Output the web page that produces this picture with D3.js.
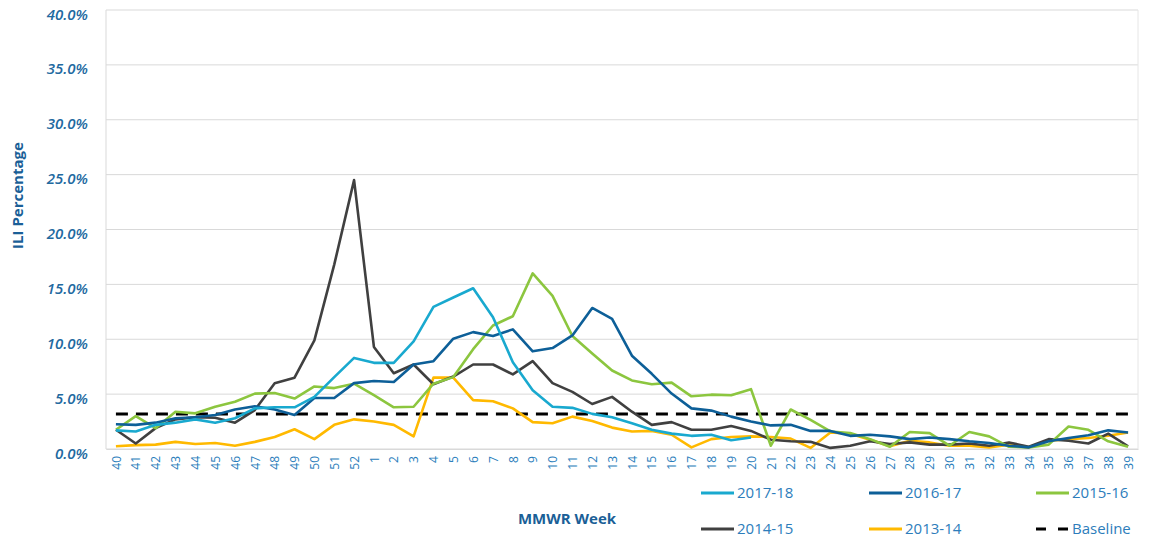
<!DOCTYPE html>
<html>
<head>
<meta charset="utf-8">
<script src="https://cdn.jsdelivr.net/npm/d3@7"></script>
<style>
  body { margin: 0; background: #fff; font-family: "Open Sans", sans-serif; }
</style>
</head>
<body>
<svg id="chart"></svg>
<script>
(() => {

  const weeks = ['40','41','42','43','44','45','46','47','48','49','50','51','52',
    '1','2','3','4','5','6','7','8','9','10','11','12','13','14','15','16','17','18','19','20',
    '21','22','23','24','25','26','27','28','29','30','31','32','33','34','35','36','37','38','39'];

  const yTicks = [0, 5, 10, 15, 20, 25, 30, 35, 40];

  const s2017 = [1.7,1.6,2.2,2.4,2.7,2.4,2.8,3.7,3.8,3.8,4.75,6.55,8.3,
    7.85,7.85,9.8,12.95,13.8,14.65,12.0,7.9,5.35,3.85,3.75,3.2,2.9,2.35,1.75,1.4,1.2,1.3,0.8,1.05,
    null,null,null,null,null,null,null,null,null,null,null,null,null,null,null,null,null,null,null];

  const s2016 = [2.25,2.2,2.4,2.8,2.9,3.1,3.6,3.9,3.6,3.1,4.65,4.65,6.0,
    6.2,6.1,7.7,8.0,10.05,10.65,10.3,10.9,8.9,9.2,10.35,12.85,11.85,8.5,6.85,5.05,3.7,3.5,2.95,2.5,
    2.15,2.2,1.65,1.65,1.2,1.3,1.15,0.9,1.05,0.9,0.7,0.55,0.3,0.15,0.7,1.0,1.25,1.7,1.5];

  const s2015 = [1.75,3.0,1.9,3.4,3.25,3.85,4.3,5.05,5.1,4.6,5.7,5.55,5.95,
    4.9,3.8,3.85,5.95,6.55,9.1,11.25,12.1,16.0,13.95,10.3,8.7,7.15,6.25,5.9,6.05,4.8,4.95,4.9,5.45,
    0.3,3.6,2.65,1.6,1.45,0.9,0.2,1.55,1.45,0.3,1.55,1.15,0.2,0.15,0.4,2.05,1.75,0.7,0.2];

  const s2014 = [1.75,0.5,1.9,2.7,2.9,2.85,2.4,3.55,6.0,6.5,9.9,16.8,24.5,
    9.3,6.9,7.7,5.9,6.6,7.7,7.7,6.8,8.0,6.0,5.2,4.1,4.75,3.4,2.2,2.45,1.75,1.75,2.1,1.65,
    0.85,0.7,0.65,0.1,0.3,0.7,0.45,0.6,0.4,0.4,0.5,0.3,0.6,0.2,0.9,0.75,0.5,1.4,0.25];

  const s2013 = [0.25,0.35,0.4,0.65,0.45,0.55,0.3,0.65,1.1,1.8,0.9,2.2,2.7,
    2.5,2.2,1.15,6.5,6.5,4.45,4.35,3.7,2.45,2.35,2.95,2.55,1.95,1.6,1.65,1.3,0.15,0.9,1.1,1.15,
    1.1,0.95,0.1,1.5,1.4,0.85,0.25,0.75,0.6,0.3,0.3,0.15,0.4,0.15,0.75,0.9,1.0,1.2,1.5];

  const baseline = 3.2;

  const seasons = ['2017-18', '2016-17', '2015-16', '2014-15', '2013-14'];
  const colors = ['#19a9cf', '#0d5f98', '#8cc63f', '#404040', '#ffb900'];

  const svgWidth = 1152;
  const svgHeight = 538;
  const margin = { top: 10, left: 106, right: 14, bottom: 89 };
  const width = svgWidth - (margin.left + margin.right);
  const height = svgHeight - (margin.top + margin.bottom);

  const svg = d3.select('#chart')
    .attr('width', svgWidth)
    .attr('height', svgHeight);

  const g = svg.append('g')
    .attr('transform', `translate(${margin.left}, ${margin.top})`);

  const xScale = d3.scalePoint()
    .domain(weeks)
    .range([0, width])
    .padding(0.5);

  const yScale = d3.scaleLinear()
    .domain([0, 40])
    .range([height, 0]);

  // grid + frame
  g.append('g')
    .selectAll('line')
    .data(yTicks)
    .enter()
    .append('line')
    .attr('x1', 0)
    .attr('x2', width)
    .attr('y1', d => yScale(d))
    .attr('y2', d => yScale(d))
    .attr('stroke', '#d9d9d9')
    .attr('stroke-width', 1);

  g.append('line').attr('x1', 0).attr('x2', 0).attr('y1', 0).attr('y2', height)
    .attr('stroke', '#d9d9d9');
  g.append('line').attr('x1', width).attr('x2', width).attr('y1', 0).attr('y2', height)
    .attr('stroke', '#e6e6e6');

  // y axis
  const yAxis = g.append('g')
    .call(d3.axisLeft(yScale).tickValues(yTicks).tickSize(0).tickPadding(18)
      .tickFormat(d => d3.format('.1f')(d) + '%'));
  yAxis.select('.domain').remove();
  yAxis.selectAll('text')
    .attr('fill', '#22699f')
    .attr('font-family', '"Open Sans", sans-serif')
    .attr('font-size', 15)
    .attr('font-weight', 600)
    .attr('font-style', 'italic')
    .attr('dy', '0.6em');

  // x axis
  const xAxis = g.append('g')
    .attr('transform', `translate(0, ${height})`)
    .call(d3.axisBottom(xScale).tickSize(0).tickPadding(0));
  xAxis.select('.domain').attr('stroke', '#d9d9d9');
  xAxis.selectAll('text')
    .attr('fill', '#2a7dbb')
    .attr('font-family', '"Open Sans", sans-serif')
    .attr('font-size', 12)
    .attr('text-anchor', 'end')
    .attr('transform', 'rotate(-90)')
    .attr('x', -7)
    .attr('y', 0)
    .attr('dy', '0.35em');

  // baseline
  g.append('line')
    .attr('x1', xScale(weeks[0]))
    .attr('x2', xScale(weeks[weeks.length - 1]))
    .attr('y1', yScale(baseline))
    .attr('y2', yScale(baseline))
    .attr('stroke', '#000')
    .attr('stroke-width', 3)
    .attr('stroke-dasharray', '12,8');

  const line = d3.line()
    .defined(d => d != null)
    .x((d, i) => xScale(weeks[i]))
    .y(d => yScale(d));

  const series = [s2017, s2016, s2015, s2014, s2013];
  const drawOrder = [4, 3, 2, 1, 0];
  drawOrder.forEach(k => {
    g.append('path')
      .datum(series[k])
      .attr('fill', 'none')
      .attr('stroke', colors[k])
      .attr('stroke-width', 2.6)
      .attr('stroke-linejoin', 'round')
      .attr('d', line);
  });

  // axis titles
  svg.append('text')
    .attr('transform', `translate(23, ${margin.top + height / 2 - 34}) rotate(-90)`)
    .attr('text-anchor', 'middle')
    .attr('fill', '#1b5f97')
    .attr('font-size', 15)
    .attr('font-weight', 700)
    .text('ILI Percentage');

  svg.append('text')
    .attr('x', 567)
    .attr('y', 524)
    .attr('text-anchor', 'middle')
    .attr('fill', '#1b5f97')
    .attr('font-size', 15)
    .attr('font-weight', 700)
    .text('MMWR Week');

  // legend
  const legendItems = seasons.map((s, i) => ({ name: s, color: colors[i], dash: null }))
    .concat([{ name: 'Baseline', color: '#000', dash: '10,12' }]);
  const legendX = [701, 869, 1036];
  const legendY = [493, 529];

  const legend = svg.append('g');
  legendItems.forEach((d, i) => {
    const lx = legendX[i % 3];
    const ly = legendY[Math.floor(i / 3)];
    legend.append('line')
      .attr('x1', lx)
      .attr('x2', lx + 33)
      .attr('y1', ly)
      .attr('y2', ly)
      .attr('stroke', d.color)
      .attr('stroke-width', 3)
      .attr('stroke-dasharray', d.dash);
    legend.append('text')
      .attr('x', lx + 36)
      .attr('y', ly)
      .attr('dy', '0.35em')
      .attr('fill', '#2d7dbb')
      .attr('font-size', 15)
      .text(d.name);
  });

})();
</script>
</body>
</html>
